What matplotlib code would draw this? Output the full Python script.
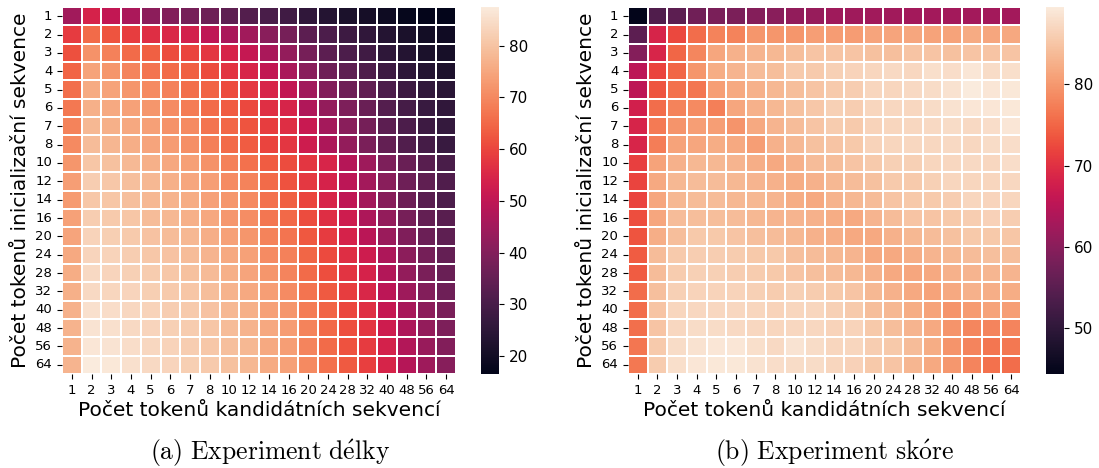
import numpy as np
import matplotlib.pyplot as plt
import seaborn as sns

plt.rcParams['font.family'] = 'DejaVu Sans'
plt.rcParams['mathtext.fontset'] = 'cm'

tokens = [1, 2, 3, 4, 5, 6, 7, 8, 10, 12, 14, 16, 20, 24, 28, 32, 40, 48, 56, 64]

# rows: tokens of the initialisation sequence, columns: tokens of candidate sequences
delky = np.array([
    [44.9, 54.1, 50.5, 46.5, 41.6, 39.9, 38.1, 36.2, 33.9, 31.9, 30.3, 28.7, 25.4, 23.2, 21.6, 20.4, 19.1, 17.6, 17.0, 16.5],
    [58.4, 65.5, 62.0, 58.9, 56.3, 55.3, 53.4, 49.9, 46.3, 44.9, 41.0, 38.1, 33.5, 30.7, 27.9, 25.4, 23.2, 21.6, 20.1, 19.3],
    [61.5, 71.5, 68.7, 65.5, 63.7, 60.9, 59.9, 57.6, 54.4, 51.1, 46.3, 42.8, 38.1, 33.5, 30.7, 28.7, 25.1, 23.2, 21.6, 20.8],
    [64.3, 74.4, 72.2, 69.4, 66.7, 65.5, 63.7, 60.9, 57.3, 54.7, 50.5, 46.3, 41.0, 36.7, 33.9, 31.1, 27.9, 25.1, 23.2, 22.0],
    [66.1, 75.8, 74.4, 72.2, 70.1, 68.7, 66.1, 64.3, 60.9, 58.0, 54.7, 50.5, 44.9, 39.9, 36.7, 34.4, 30.7, 27.9, 25.8, 24.3],
    [67.3, 76.5, 75.5, 74.0, 72.2, 70.5, 68.0, 65.5, 63.2, 60.4, 56.6, 54.4, 47.4, 42.8, 39.0, 35.7, 32.3, 29.5, 27.1, 25.4],
    [69.0, 77.9, 76.5, 75.1, 73.7, 71.5, 70.1, 66.7, 64.9, 62.0, 58.9, 56.3, 51.7, 45.5, 41.0, 37.6, 33.5, 30.7, 27.9, 26.3],
    [70.1, 78.9, 77.6, 76.2, 74.5, 73.1, 71.1, 68.4, 65.5, 63.2, 59.9, 57.6, 52.3, 47.0, 42.8, 38.5, 34.8, 31.5, 29.5, 27.1],
    [72.2, 80.3, 79.7, 78.2, 76.5, 75.1, 73.7, 71.6, 68.7, 66.3, 63.2, 60.9, 57.6, 54.7, 48.3, 44.4, 39.0, 35.7, 32.7, 30.3],
    [73.4, 81.8, 80.8, 79.3, 77.9, 76.5, 74.8, 73.4, 70.5, 69.0, 65.5, 61.8, 58.0, 54.1, 49.5, 45.3, 41.0, 36.7, 34.2, 31.3],
    [72.9, 80.8, 80.3, 79.3, 78.0, 77.1, 75.9, 74.1, 72.2, 70.1, 66.2, 63.7, 59.9, 54.7, 49.9, 45.3, 40.8, 36.2, 33.1, 30.7],
    [74.0, 81.8, 81.2, 80.3, 78.7, 77.9, 76.5, 75.1, 72.5, 70.8, 67.2, 65.3, 60.9, 56.3, 52.3, 47.0, 42.8, 38.1, 34.8, 32.7],
    [74.5, 82.8, 82.2, 81.2, 79.9, 78.9, 77.9, 76.2, 74.1, 72.2, 69.0, 66.7, 62.6, 58.4, 54.1, 49.1, 43.9, 39.4, 36.0, 33.7],
    [75.5, 83.2, 82.8, 81.8, 80.8, 79.9, 78.9, 77.5, 75.5, 74.0, 70.5, 68.7, 64.7, 60.7, 56.3, 52.3, 47.0, 41.6, 37.6, 35.0],
    [76.1, 83.9, 83.2, 82.5, 81.4, 80.6, 79.7, 78.5, 76.5, 74.5, 72.2, 69.4, 65.5, 61.2, 57.5, 54.1, 47.8, 42.8, 38.5, 35.7],
    [76.5, 84.1, 83.6, 83.2, 82.2, 81.2, 80.3, 79.0, 77.1, 75.5, 73.4, 70.5, 66.7, 62.9, 58.7, 55.0, 49.5, 44.4, 39.9, 36.7],
    [76.8, 85.5, 85.0, 83.8, 82.8, 81.8, 81.2, 79.9, 78.0, 76.5, 74.1, 72.2, 68.0, 64.3, 60.1, 56.6, 51.1, 46.0, 41.6, 38.5],
    [77.1, 86.0, 85.5, 84.1, 83.2, 82.5, 81.4, 80.3, 78.7, 77.1, 75.1, 73.1, 69.0, 65.3, 61.2, 57.6, 52.3, 47.0, 42.8, 39.0],
    [77.1, 86.4, 86.0, 85.0, 83.8, 82.8, 81.8, 80.8, 79.3, 77.9, 75.5, 73.4, 69.4, 65.5, 61.8, 58.4, 53.8, 47.8, 43.6, 39.9],
    [77.5, 87.5, 86.8, 85.5, 84.1, 83.2, 82.2, 81.2, 79.7, 78.0, 75.8, 74.0, 70.1, 66.2, 62.9, 59.2, 54.4, 48.3, 44.4, 40.8],
])

skore = np.array([
    [44.4, 53.9, 55.2, 57.3, 58.4, 58.6, 59.5, 60.0, 60.9, 61.4, 62.2, 62.2, 62.4, 62.4, 62.6, 62.6, 62.6, 62.6, 62.6, 62.6],
    [55.2, 68.4, 72.4, 75.6, 77.8, 77.8, 79.7, 79.7, 79.8, 80.6, 80.4, 80.5, 81.3, 81.3, 81.5, 81.2, 81.2, 82.0, 81.5, 81.7],
    [59.5, 68.6, 74.9, 78.1, 81.4, 82.7, 83.0, 83.5, 84.2, 84.8, 84.8, 84.9, 84.4, 84.3, 84.9, 84.9, 84.5, 84.9, 84.8, 84.9],
    [65.2, 72.0, 74.9, 79.7, 82.2, 83.0, 83.9, 84.2, 85.5, 85.5, 86.2, 86.6, 86.9, 87.3, 87.2, 88.0, 87.8, 88.9, 87.6, 88.0],
    [65.5, 73.3, 76.0, 76.5, 80.6, 81.9, 82.7, 83.5, 84.2, 84.8, 85.5, 85.9, 86.9, 87.0, 87.3, 87.6, 88.3, 89.5, 88.9, 89.1],
    [67.8, 75.6, 77.8, 78.5, 77.4, 81.4, 82.7, 83.5, 84.5, 85.1, 86.2, 85.9, 86.9, 87.2, 87.2, 87.6, 88.3, 88.9, 88.9, 89.1],
    [68.4, 76.9, 79.5, 80.6, 80.6, 79.5, 81.9, 83.0, 83.9, 84.8, 85.8, 85.5, 86.6, 86.9, 87.2, 87.3, 87.6, 87.3, 87.8, 88.9],
    [68.6, 77.2, 81.1, 81.4, 82.2, 81.8, 80.6, 82.7, 83.6, 84.5, 84.9, 85.4, 86.6, 86.9, 87.2, 87.2, 87.3, 87.2, 87.6, 87.8],
    [71.5, 81.1, 82.7, 83.5, 83.5, 83.0, 82.4, 81.8, 82.7, 83.9, 84.2, 84.8, 85.5, 86.2, 86.2, 86.9, 87.2, 87.3, 87.2, 87.8],
    [72.0, 81.8, 83.5, 83.9, 83.9, 83.5, 83.0, 82.7, 82.2, 82.7, 83.5, 83.9, 84.5, 85.5, 85.5, 86.2, 86.9, 87.0, 87.0, 87.2],
    [72.0, 81.4, 83.5, 83.9, 83.9, 83.5, 83.5, 83.0, 82.2, 81.8, 82.9, 83.5, 83.9, 84.9, 85.4, 85.5, 85.9, 86.9, 86.8, 87.0],
    [72.8, 81.4, 83.9, 84.2, 84.2, 83.9, 83.5, 83.0, 83.0, 82.7, 82.2, 81.8, 83.0, 83.9, 84.8, 84.9, 85.4, 85.9, 86.5, 85.9],
    [73.3, 82.4, 84.2, 85.3, 85.3, 84.8, 84.3, 83.9, 83.5, 82.7, 82.4, 81.9, 81.8, 82.7, 83.5, 83.9, 84.5, 85.3, 85.4, 85.0],
    [74.1, 83.9, 85.5, 85.9, 85.9, 85.8, 85.4, 85.3, 84.3, 83.9, 83.5, 83.0, 81.9, 81.8, 82.4, 83.0, 83.5, 83.9, 84.3, 84.2],
    [74.1, 83.9, 85.8, 86.2, 86.2, 85.9, 85.8, 85.4, 84.8, 84.3, 83.9, 83.5, 82.7, 81.8, 81.4, 81.9, 82.7, 83.0, 83.2, 83.0],
    [75.6, 84.3, 86.2, 86.6, 86.6, 86.6, 86.2, 85.8, 86.2, 85.8, 85.4, 84.8, 83.5, 82.7, 81.9, 81.1, 81.9, 82.7, 82.4, 82.2],
    [75.6, 84.8, 86.9, 87.2, 87.2, 87.2, 87.0, 86.6, 86.9, 86.9, 86.2, 85.5, 84.2, 83.5, 82.2, 81.1, 79.5, 80.3, 81.1, 80.6],
    [75.9, 84.8, 87.2, 87.6, 87.6, 87.3, 87.2, 87.0, 87.2, 87.2, 86.6, 86.6, 85.4, 84.2, 83.0, 81.8, 79.5, 78.2, 77.9, 77.9],
    [76.5, 85.5, 87.6, 88.3, 88.9, 88.9, 88.0, 87.3, 88.5, 87.6, 87.0, 86.9, 85.9, 85.3, 83.9, 82.2, 79.5, 77.9, 76.6, 76.8],
    [76.8, 85.8, 88.0, 88.9, 89.1, 89.1, 88.3, 87.8, 87.6, 87.6, 87.0, 86.5, 85.4, 84.8, 83.2, 81.8, 79.9, 77.9, 76.0, 75.6],
])

W, H = 1099, 468
fig = plt.figure(figsize=(W / 100, H / 100), dpi=100)


def px(x0, y0, x1, y1):
    return [x0 / W, 1 - y1 / H, (x1 - x0) / W, (y1 - y0) / H]


panels = [
    (delky, px(62, 7, 456, 374), px(481, 7, 499, 374),
     r'$\mathrm{(a)\ Experiment\ d\acute{e}lky}$', 270),
    (skore, px(628, 7, 1021, 374), px(1046, 7, 1064, 374),
     r'$\mathrm{(b)\ Experiment\ sk\acute{o}re}$', 835),
]

for data, box, cbox, caption, cx in panels:
    ax = fig.add_axes(box)
    cax = fig.add_axes(cbox)
    sns.heatmap(data, ax=ax, cbar_ax=cax, cmap='rocket', linewidths=1.2, linecolor='white',
                xticklabels=tokens, yticklabels=tokens)
    ax.tick_params(labelsize=9.5, length=3.5)
    plt.setp(ax.get_xticklabels(), rotation=0)
    plt.setp(ax.get_yticklabels(), rotation=0)
    ax.set_xlabel('Počet tokenů kandidátních sekvencí', fontsize=14.5, labelpad=3)
    ax.set_ylabel('Počet tokenů inicializační sekvence', fontsize=14.5, labelpad=4)
    cax.tick_params(labelsize=11, length=3.5)
    fig.text(cx / W, 1 - 453 / H, caption, ha='center', va='center', fontsize=18.5)

plt.savefig('out.png', dpi=100)
